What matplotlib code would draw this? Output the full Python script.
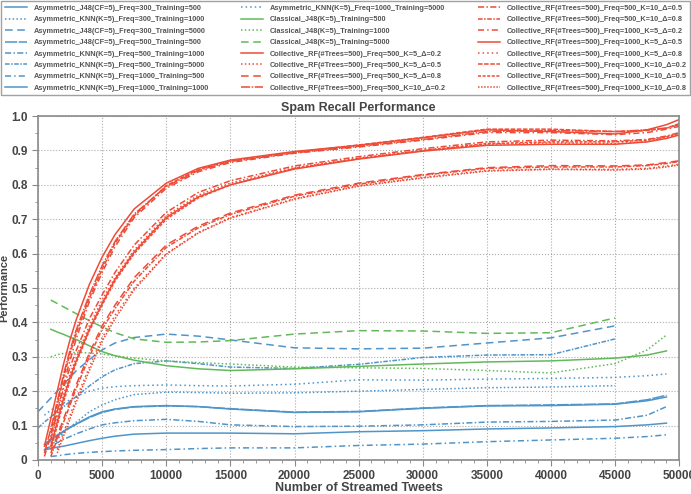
import numpy as np
import matplotlib
matplotlib.use("Agg")
import matplotlib.pyplot as plt
from matplotlib.ticker import MultipleLocator

plt.rcParams['font.family'] = ['Liberation Sans', 'DejaVu Sans']

nan = np.nan

# x positions (number of streamed tweets)
tweets = [0, 500, 1000, 1500, 2000, 2500, 3000, 4000, 5000, 6000, 7500, 10000, 12500,
          15000, 20000, 25000, 30000, 35000, 40000, 45000, 47500, 49000, 50000]

# --- Asymmetric (blue) ---
asym_j48_f300_t500 = [nan, 0.045, 0.06, 0.072, 0.084, 0.095, 0.105, 0.125, 0.14, 0.148, 0.155, 0.158, 0.155,
                      0.148, 0.138, 0.14, 0.15, 0.157, 0.158, 0.162, 0.172, 0.183, nan]
asym_knn_f300_t1000 = [nan, nan, 0.04, 0.06, 0.08, 0.095, 0.11, 0.14, 0.16, 0.175, 0.19, 0.197, 0.196,
                       0.194, 0.195, 0.2, 0.205, 0.21, 0.212, 0.216, nan, nan, nan]
asym_j48_f300_t5000 = [0.14, 0.16, 0.18, 0.2, 0.22, 0.24, 0.26, 0.292, 0.32, 0.34, 0.356, 0.366, 0.36,
                       0.349, 0.326, 0.323, 0.325, 0.34, 0.355, 0.39, nan, nan, nan]
asym_j48_f500_t500 = [nan, 0.04, 0.058, 0.07, 0.082, 0.094, 0.104, 0.123, 0.138, 0.147, 0.154, 0.157, 0.155,
                      0.149, 0.139, 0.141, 0.151, 0.158, 0.16, 0.163, 0.175, 0.188, nan]
asym_knn_f500_t1000 = [nan, 0.03, 0.04, 0.05, 0.06, 0.068, 0.076, 0.09, 0.102, 0.108, 0.114, 0.118, 0.112,
                       0.102, 0.097, 0.098, 0.102, 0.11, 0.112, 0.116, 0.13, 0.155, nan]
asym_knn_f500_t5000 = [0.093, 0.11, 0.125, 0.14, 0.155, 0.17, 0.185, 0.215, 0.242, 0.262, 0.28, 0.288, 0.28,
                       0.27, 0.266, 0.278, 0.298, 0.305, 0.306, 0.352, nan, nan, nan]
asym_knn_f1000_t500 = [nan, nan, 0.01, 0.012, 0.015, 0.017, 0.019, 0.022, 0.024, 0.026, 0.028, 0.03, 0.033,
                       0.035, 0.035, 0.042, 0.046, 0.053, 0.058, 0.063, 0.068, 0.073, nan]
asym_knn_f1000_t1000 = [nan, 0.029, 0.033, 0.037, 0.04, 0.044, 0.048, 0.056, 0.063, 0.069, 0.075, 0.078, 0.078,
                        0.078, 0.076, 0.082, 0.085, 0.09, 0.093, 0.097, 0.102, 0.107, nan]
asym_knn_f1000_t5000 = [nan, 0.13, 0.145, 0.155, 0.165, 0.175, 0.185, 0.2, 0.209, 0.213, 0.216, 0.218, 0.216,
                        0.215, 0.22, 0.233, 0.232, 0.235, 0.237, 0.24, 0.245, 0.25, nan]

# --- Classical (green) ---
class_t500 = [nan, nan, 0.38, 0.372, 0.365, 0.357, 0.35, 0.332, 0.315, 0.303, 0.29, 0.274, 0.265,
              0.26, 0.265, 0.272, 0.279, 0.285, 0.288, 0.296, 0.305, 0.317, nan]
class_t1000 = [nan, nan, 0.3, 0.306, 0.31, 0.312, 0.313, 0.311, 0.308, 0.303, 0.296, 0.288, 0.283,
               0.279, 0.27, 0.268, 0.266, 0.26, 0.253, 0.28, 0.32, 0.363, nan]
class_t5000 = [nan, nan, 0.465, 0.455, 0.445, 0.435, 0.425, 0.405, 0.387, 0.37, 0.352, 0.342, 0.343,
               0.347, 0.366, 0.376, 0.375, 0.368, 0.37, 0.413, nan, nan, nan]

# --- Collective (red) ---
coll_f500_k5_d02 = [nan, 0.04, 0.12, 0.2, 0.28, 0.35, 0.41, 0.51, 0.59, 0.655, 0.73, 0.805, 0.848,
                    0.872, 0.897, 0.915, 0.937, 0.96, 0.955, 0.948, 0.96, 0.975, 0.99]
coll_f500_k5_d05 = [nan, nan, 0.05, 0.12, 0.19, 0.25, 0.3, 0.39, 0.465, 0.53, 0.61, 0.71, 0.77,
                    0.805, 0.85, 0.878, 0.9, 0.918, 0.922, 0.92, 0.926, 0.938, 0.948]
coll_f500_k5_d08 = [nan, nan, 0.02, 0.07, 0.12, 0.17, 0.22, 0.31, 0.39, 0.45, 0.53, 0.625, 0.68,
                    0.718, 0.77, 0.805, 0.83, 0.85, 0.856, 0.855, 0.858, 0.865, 0.87]
coll_f500_k10_d02 = [nan, 0.02, 0.09, 0.17, 0.25, 0.32, 0.38, 0.48, 0.565, 0.635, 0.715, 0.795, 0.842,
                     0.868, 0.893, 0.912, 0.932, 0.955, 0.958, 0.955, 0.96, 0.965, 0.975]
coll_f500_k10_d05 = [nan, 0.01, 0.07, 0.14, 0.21, 0.27, 0.32, 0.41, 0.48, 0.545, 0.625, 0.72, 0.778,
                     0.812, 0.855, 0.882, 0.905, 0.925, 0.93, 0.928, 0.932, 0.942, 0.952]
coll_f500_k10_d08 = [nan, nan, 0.01, 0.06, 0.11, 0.16, 0.21, 0.3, 0.38, 0.44, 0.52, 0.618, 0.675,
                     0.714, 0.767, 0.802, 0.828, 0.848, 0.852, 0.852, 0.856, 0.862, 0.868]
coll_f1000_k5_d02 = [nan, nan, 0.06, 0.14, 0.22, 0.29, 0.355, 0.46, 0.545, 0.62, 0.705, 0.79, 0.838,
                     0.865, 0.892, 0.91, 0.93, 0.952, 0.952, 0.946, 0.952, 0.962, 0.97]
coll_f1000_k5_d05 = [nan, nan, 0.04, 0.11, 0.18, 0.24, 0.29, 0.38, 0.455, 0.525, 0.605, 0.705, 0.765,
                     0.8, 0.846, 0.875, 0.898, 0.915, 0.918, 0.918, 0.925, 0.935, 0.945]
coll_f1000_k5_d08 = [nan, nan, nan, 0.03, 0.08, 0.13, 0.18, 0.27, 0.355, 0.42, 0.5, 0.6, 0.662,
                     0.705, 0.76, 0.798, 0.822, 0.842, 0.846, 0.845, 0.848, 0.855, 0.86]
coll_f1000_k10_d02 = [nan, nan, 0.08, 0.16, 0.24, 0.31, 0.37, 0.47, 0.555, 0.63, 0.71, 0.798, 0.845,
                      0.87, 0.895, 0.916, 0.938, 0.962, 0.962, 0.955, 0.958, 0.965, 0.978]
coll_f1000_k10_d05 = [nan, nan, 0.03, 0.1, 0.17, 0.23, 0.285, 0.375, 0.45, 0.52, 0.6, 0.7, 0.762,
                      0.8, 0.848, 0.876, 0.9, 0.92, 0.925, 0.925, 0.93, 0.94, 0.95]
coll_f1000_k10_d08 = [nan, nan, nan, 0.02, 0.07, 0.12, 0.17, 0.26, 0.345, 0.41, 0.495, 0.598, 0.66,
                      0.703, 0.758, 0.796, 0.82, 0.84, 0.845, 0.843, 0.846, 0.852, 0.858]

BLUE = '#4f95c9'
GREEN = '#62b95a'
RED = '#ef4b36'

series = [
    ("Asymmetric_J48(CF=5)_Freq=300_Training=500", asym_j48_f300_t500, BLUE, '-'),
    ("Asymmetric_KNN(K=5)_Freq=300_Training=1000", asym_knn_f300_t1000, BLUE, (0, (1, 1.5))),
    ("Asymmetric_J48(CF=5)_Freq=300_Training=5000", asym_j48_f300_t5000, BLUE, (0, (5, 3))),
    ("Asymmetric_J48(CF=5)_Freq=500_Training=500", asym_j48_f500_t500, BLUE, (0, (8, 1))),
    ("Asymmetric_KNN(K=5)_Freq=500_Training=1000", asym_knn_f500_t1000, BLUE, (0, (4, 1.5, 1, 1.5))),
    ("Asymmetric_KNN(K=5)_Freq=500_Training=5000", asym_knn_f500_t5000, BLUE, (0, (3, 1, 1, 1))),
    ("Asymmetric_KNN(K=5)_Freq=1000_Training=500", asym_knn_f1000_t500, BLUE, (0, (4, 2, 1, 2))),
    ("Asymmetric_KNN(K=5)_Freq=1000_Training=1000", asym_knn_f1000_t1000, BLUE, '-'),
    ("Asymmetric_KNN(K=5)_Freq=1000_Training=5000", asym_knn_f1000_t5000, BLUE, (0, (1, 2))),
    ("Classical_J48(K=5)_Training=500", class_t500, GREEN, '-'),
    ("Classical_J48(K=5)_Training=1000", class_t1000, GREEN, (0, (1, 1.5))),
    ("Classical_J48(K=5)_Training=5000", class_t5000, GREEN, (0, (5, 3))),
    ("Collective_RF(#Trees=500)_Freq=500_K=5_Δ=0.2", coll_f500_k5_d02, RED, '-'),
    ("Collective_RF(#Trees=500)_Freq=500_K=5_Δ=0.5", coll_f500_k5_d05, RED, (0, (1, 1.5))),
    ("Collective_RF(#Trees=500)_Freq=500_K=5_Δ=0.8", coll_f500_k5_d08, RED, (0, (5, 3))),
    ("Collective_RF(#Trees=500)_Freq=500_K=10_Δ=0.2", coll_f500_k10_d02, RED, (0, (6, 1, 1, 1))),
    ("Collective_RF(#Trees=500)_Freq=500_K=10_Δ=0.5", coll_f500_k10_d05, RED, (0, (4, 1.5, 1, 1.5))),
    ("Collective_RF(#Trees=500)_Freq=500_K=10_Δ=0.8", coll_f500_k10_d08, RED, (0, (3, 1, 1, 1))),
    ("Collective_RF(#Trees=500)_Freq=1000_K=5_Δ=0.2", coll_f1000_k5_d02, RED, (0, (4, 2, 1, 2))),
    ("Collective_RF(#Trees=500)_Freq=1000_K=5_Δ=0.5", coll_f1000_k5_d05, RED, '-'),
    ("Collective_RF(#Trees=500)_Freq=1000_K=5_Δ=0.8", coll_f1000_k5_d08, RED, (0, (1, 2))),
    ("Collective_RF(#Trees=500)_Freq=1000_K=10_Δ=0.2", coll_f1000_k10_d02, RED, (0, (3, 1))),
    ("Collective_RF(#Trees=500)_Freq=1000_K=10_Δ=0.5", coll_f1000_k10_d05, RED, (0, (2, 1))),
    ("Collective_RF(#Trees=500)_Freq=1000_K=10_Δ=0.8", coll_f1000_k10_d08, RED, (0, (1, 1))),
]

fig = plt.figure(figsize=(6.91, 4.94), dpi=100)
ax = fig.add_axes([0.055, 0.069, 0.928, 0.696])

for label, vals, color, ls in series:
    ax.plot(tweets, vals, color=color, linestyle=ls, linewidth=1.1, label=label)

ax.set_xlim(0, 50000)
ax.set_ylim(0, 1.0)
ax.xaxis.set_major_locator(MultipleLocator(5000))
ax.xaxis.set_minor_locator(MultipleLocator(1000))
ax.yaxis.set_major_locator(MultipleLocator(0.1))
ax.yaxis.set_minor_locator(MultipleLocator(0.05))
ax.yaxis.set_major_formatter(plt.FuncFormatter(lambda v, p: f"{v:.1f}" if v > 0 else "0"))

ax.grid(True, which='major', linestyle=':', color='#aaaaaa', linewidth=0.8)
for s in ax.spines.values():
    s.set_color('#8a8a8a')
    s.set_linewidth(1.2)
ax.tick_params(which='both', colors='#8a8a8a', labelcolor='#444444', labelsize=8.5)
ax.tick_params(which='major', length=4)
ax.tick_params(which='minor', length=2.5)
for t in ax.get_xticklabels() + ax.get_yticklabels():
    t.set_fontweight('bold')

ax.set_title("Spam Recall Performance", fontsize=9, fontweight='bold', color='#444444', pad=4)
ax.set_xlabel("Number of Streamed Tweets", fontsize=9, fontweight='bold', color='#444444', labelpad=0)
ax.set_ylabel("Performance", fontsize=8, fontweight='bold', color='#444444')
ax.yaxis.set_label_coords(-0.045, 0.5)

leg = fig.legend(loc='upper left', bbox_to_anchor=(0.002, 0.822, 0.996, 0.175), mode='expand',
                 ncol=3, fontsize=5.3, frameon=True, fancybox=False, handlelength=3.0,
                 handletextpad=0.9, labelspacing=0.58, borderaxespad=0, columnspacing=0.8,
                 borderpad=0.45)
leg.get_frame().set_edgecolor('#8a8a8a')
leg.get_frame().set_linewidth(1.0)
for t in leg.get_texts():
    t.set_color('#555555')
    t.set_fontweight('bold')

fig.savefig("out.png", dpi=100)
plt.close(fig)
